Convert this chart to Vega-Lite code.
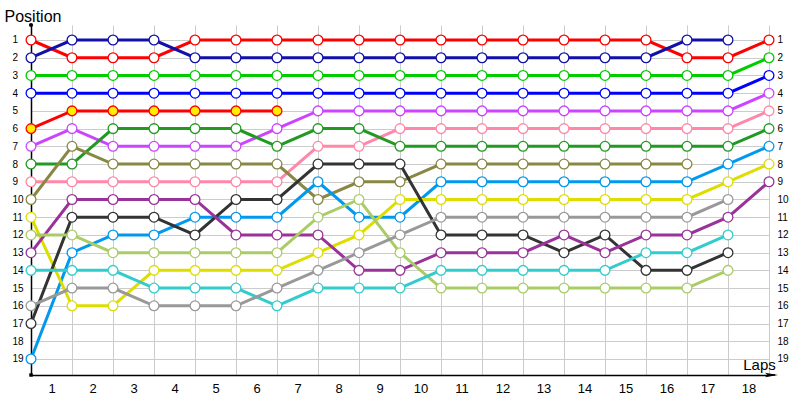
{
  "$schema": "https://vega.github.io/schema/vega-lite/v6.json",
  "width": 738,
  "height": 350,
  "autosize": {"type": "none"},
  "padding": {"left": 31, "top": 25, "right": 31, "bottom": 25},
  "background": "white",
  "config": {"view": {"stroke": null}, "axis": {"labelFont": "Liberation Sans", "titleFont": "Liberation Sans"}},
  "datasets": {
    "race": [
      {"driver":"red","lap":0,"pos":1},{"driver":"red","lap":1,"pos":2},{"driver":"red","lap":2,"pos":2},{"driver":"red","lap":3,"pos":2},{"driver":"red","lap":4,"pos":1},{"driver":"red","lap":5,"pos":1},{"driver":"red","lap":6,"pos":1},{"driver":"red","lap":7,"pos":1},{"driver":"red","lap":8,"pos":1},{"driver":"red","lap":9,"pos":1},{"driver":"red","lap":10,"pos":1},{"driver":"red","lap":11,"pos":1},{"driver":"red","lap":12,"pos":1},{"driver":"red","lap":13,"pos":1},{"driver":"red","lap":14,"pos":1},{"driver":"red","lap":15,"pos":1},{"driver":"red","lap":16,"pos":2},{"driver":"red","lap":17,"pos":2},{"driver":"red","lap":18,"pos":1},
      {"driver":"navy","lap":0,"pos":2},{"driver":"navy","lap":1,"pos":1},{"driver":"navy","lap":2,"pos":1},{"driver":"navy","lap":3,"pos":1},{"driver":"navy","lap":4,"pos":2},{"driver":"navy","lap":5,"pos":2},{"driver":"navy","lap":6,"pos":2},{"driver":"navy","lap":7,"pos":2},{"driver":"navy","lap":8,"pos":2},{"driver":"navy","lap":9,"pos":2},{"driver":"navy","lap":10,"pos":2},{"driver":"navy","lap":11,"pos":2},{"driver":"navy","lap":12,"pos":2},{"driver":"navy","lap":13,"pos":2},{"driver":"navy","lap":14,"pos":2},{"driver":"navy","lap":15,"pos":2},{"driver":"navy","lap":16,"pos":1},{"driver":"navy","lap":17,"pos":1},
      {"driver":"green","lap":0,"pos":3},{"driver":"green","lap":1,"pos":3},{"driver":"green","lap":2,"pos":3},{"driver":"green","lap":3,"pos":3},{"driver":"green","lap":4,"pos":3},{"driver":"green","lap":5,"pos":3},{"driver":"green","lap":6,"pos":3},{"driver":"green","lap":7,"pos":3},{"driver":"green","lap":8,"pos":3},{"driver":"green","lap":9,"pos":3},{"driver":"green","lap":10,"pos":3},{"driver":"green","lap":11,"pos":3},{"driver":"green","lap":12,"pos":3},{"driver":"green","lap":13,"pos":3},{"driver":"green","lap":14,"pos":3},{"driver":"green","lap":15,"pos":3},{"driver":"green","lap":16,"pos":3},{"driver":"green","lap":17,"pos":3},{"driver":"green","lap":18,"pos":2},
      {"driver":"blue","lap":0,"pos":4},{"driver":"blue","lap":1,"pos":4},{"driver":"blue","lap":2,"pos":4},{"driver":"blue","lap":3,"pos":4},{"driver":"blue","lap":4,"pos":4},{"driver":"blue","lap":5,"pos":4},{"driver":"blue","lap":6,"pos":4},{"driver":"blue","lap":7,"pos":4},{"driver":"blue","lap":8,"pos":4},{"driver":"blue","lap":9,"pos":4},{"driver":"blue","lap":10,"pos":4},{"driver":"blue","lap":11,"pos":4},{"driver":"blue","lap":12,"pos":4},{"driver":"blue","lap":13,"pos":4},{"driver":"blue","lap":14,"pos":4},{"driver":"blue","lap":15,"pos":4},{"driver":"blue","lap":16,"pos":4},{"driver":"blue","lap":17,"pos":4},{"driver":"blue","lap":18,"pos":3},
      {"driver":"redYellow","lap":0,"pos":6},{"driver":"redYellow","lap":1,"pos":5},{"driver":"redYellow","lap":2,"pos":5},{"driver":"redYellow","lap":3,"pos":5},{"driver":"redYellow","lap":4,"pos":5},{"driver":"redYellow","lap":5,"pos":5},{"driver":"redYellow","lap":6,"pos":5},
      {"driver":"violet","lap":0,"pos":7},{"driver":"violet","lap":1,"pos":6},{"driver":"violet","lap":2,"pos":7},{"driver":"violet","lap":3,"pos":7},{"driver":"violet","lap":4,"pos":7},{"driver":"violet","lap":5,"pos":7},{"driver":"violet","lap":6,"pos":6},{"driver":"violet","lap":7,"pos":5},{"driver":"violet","lap":8,"pos":5},{"driver":"violet","lap":9,"pos":5},{"driver":"violet","lap":10,"pos":5},{"driver":"violet","lap":11,"pos":5},{"driver":"violet","lap":12,"pos":5},{"driver":"violet","lap":13,"pos":5},{"driver":"violet","lap":14,"pos":5},{"driver":"violet","lap":15,"pos":5},{"driver":"violet","lap":16,"pos":5},{"driver":"violet","lap":17,"pos":5},{"driver":"violet","lap":18,"pos":4},
      {"driver":"pink","lap":0,"pos":9},{"driver":"pink","lap":1,"pos":9},{"driver":"pink","lap":2,"pos":9},{"driver":"pink","lap":3,"pos":9},{"driver":"pink","lap":4,"pos":9},{"driver":"pink","lap":5,"pos":9},{"driver":"pink","lap":6,"pos":9},{"driver":"pink","lap":7,"pos":7},{"driver":"pink","lap":8,"pos":7},{"driver":"pink","lap":9,"pos":6},{"driver":"pink","lap":10,"pos":6},{"driver":"pink","lap":11,"pos":6},{"driver":"pink","lap":12,"pos":6},{"driver":"pink","lap":13,"pos":6},{"driver":"pink","lap":14,"pos":6},{"driver":"pink","lap":15,"pos":6},{"driver":"pink","lap":16,"pos":6},{"driver":"pink","lap":17,"pos":6},{"driver":"pink","lap":18,"pos":5},
      {"driver":"darkGreen","lap":0,"pos":8},{"driver":"darkGreen","lap":1,"pos":8},{"driver":"darkGreen","lap":2,"pos":6},{"driver":"darkGreen","lap":3,"pos":6},{"driver":"darkGreen","lap":4,"pos":6},{"driver":"darkGreen","lap":5,"pos":6},{"driver":"darkGreen","lap":6,"pos":7},{"driver":"darkGreen","lap":7,"pos":6},{"driver":"darkGreen","lap":8,"pos":6},{"driver":"darkGreen","lap":9,"pos":7},{"driver":"darkGreen","lap":10,"pos":7},{"driver":"darkGreen","lap":11,"pos":7},{"driver":"darkGreen","lap":12,"pos":7},{"driver":"darkGreen","lap":13,"pos":7},{"driver":"darkGreen","lap":14,"pos":7},{"driver":"darkGreen","lap":15,"pos":7},{"driver":"darkGreen","lap":16,"pos":7},{"driver":"darkGreen","lap":17,"pos":7},{"driver":"darkGreen","lap":18,"pos":6},
      {"driver":"olive","lap":0,"pos":10},{"driver":"olive","lap":1,"pos":7},{"driver":"olive","lap":2,"pos":8},{"driver":"olive","lap":3,"pos":8},{"driver":"olive","lap":4,"pos":8},{"driver":"olive","lap":5,"pos":8},{"driver":"olive","lap":6,"pos":8},{"driver":"olive","lap":7,"pos":10},{"driver":"olive","lap":8,"pos":9},{"driver":"olive","lap":9,"pos":9},{"driver":"olive","lap":10,"pos":8},{"driver":"olive","lap":11,"pos":8},{"driver":"olive","lap":12,"pos":8},{"driver":"olive","lap":13,"pos":8},{"driver":"olive","lap":14,"pos":8},{"driver":"olive","lap":15,"pos":8},{"driver":"olive","lap":16,"pos":8},
      {"driver":"sky","lap":0,"pos":19},{"driver":"sky","lap":1,"pos":13},{"driver":"sky","lap":2,"pos":12},{"driver":"sky","lap":3,"pos":12},{"driver":"sky","lap":4,"pos":11},{"driver":"sky","lap":5,"pos":11},{"driver":"sky","lap":6,"pos":11},{"driver":"sky","lap":7,"pos":9},{"driver":"sky","lap":8,"pos":11},{"driver":"sky","lap":9,"pos":11},{"driver":"sky","lap":10,"pos":9},{"driver":"sky","lap":11,"pos":9},{"driver":"sky","lap":12,"pos":9},{"driver":"sky","lap":13,"pos":9},{"driver":"sky","lap":14,"pos":9},{"driver":"sky","lap":15,"pos":9},{"driver":"sky","lap":16,"pos":9},{"driver":"sky","lap":17,"pos":8},{"driver":"sky","lap":18,"pos":7},
      {"driver":"yellow","lap":0,"pos":11},{"driver":"yellow","lap":1,"pos":16},{"driver":"yellow","lap":2,"pos":16},{"driver":"yellow","lap":3,"pos":14},{"driver":"yellow","lap":4,"pos":14},{"driver":"yellow","lap":5,"pos":14},{"driver":"yellow","lap":6,"pos":14},{"driver":"yellow","lap":7,"pos":13},{"driver":"yellow","lap":8,"pos":12},{"driver":"yellow","lap":9,"pos":10},{"driver":"yellow","lap":10,"pos":10},{"driver":"yellow","lap":11,"pos":10},{"driver":"yellow","lap":12,"pos":10},{"driver":"yellow","lap":13,"pos":10},{"driver":"yellow","lap":14,"pos":10},{"driver":"yellow","lap":15,"pos":10},{"driver":"yellow","lap":16,"pos":10},{"driver":"yellow","lap":17,"pos":9},{"driver":"yellow","lap":18,"pos":8},
      {"driver":"black","lap":0,"pos":17},{"driver":"black","lap":1,"pos":11},{"driver":"black","lap":2,"pos":11},{"driver":"black","lap":3,"pos":11},{"driver":"black","lap":4,"pos":12},{"driver":"black","lap":5,"pos":10},{"driver":"black","lap":6,"pos":10},{"driver":"black","lap":7,"pos":8},{"driver":"black","lap":8,"pos":8},{"driver":"black","lap":9,"pos":8},{"driver":"black","lap":10,"pos":12},{"driver":"black","lap":11,"pos":12},{"driver":"black","lap":12,"pos":12},{"driver":"black","lap":13,"pos":13},{"driver":"black","lap":14,"pos":12},{"driver":"black","lap":15,"pos":14},{"driver":"black","lap":16,"pos":14},{"driver":"black","lap":17,"pos":13},
      {"driver":"purple","lap":0,"pos":13},{"driver":"purple","lap":1,"pos":10},{"driver":"purple","lap":2,"pos":10},{"driver":"purple","lap":3,"pos":10},{"driver":"purple","lap":4,"pos":10},{"driver":"purple","lap":5,"pos":12},{"driver":"purple","lap":6,"pos":12},{"driver":"purple","lap":7,"pos":12},{"driver":"purple","lap":8,"pos":14},{"driver":"purple","lap":9,"pos":14},{"driver":"purple","lap":10,"pos":13},{"driver":"purple","lap":11,"pos":13},{"driver":"purple","lap":12,"pos":13},{"driver":"purple","lap":13,"pos":12},{"driver":"purple","lap":14,"pos":13},{"driver":"purple","lap":15,"pos":12},{"driver":"purple","lap":16,"pos":12},{"driver":"purple","lap":17,"pos":11},{"driver":"purple","lap":18,"pos":9},
      {"driver":"lime","lap":0,"pos":12},{"driver":"lime","lap":1,"pos":12},{"driver":"lime","lap":2,"pos":13},{"driver":"lime","lap":3,"pos":13},{"driver":"lime","lap":4,"pos":13},{"driver":"lime","lap":5,"pos":13},{"driver":"lime","lap":6,"pos":13},{"driver":"lime","lap":7,"pos":11},{"driver":"lime","lap":8,"pos":10},{"driver":"lime","lap":9,"pos":13},{"driver":"lime","lap":10,"pos":15},{"driver":"lime","lap":11,"pos":15},{"driver":"lime","lap":12,"pos":15},{"driver":"lime","lap":13,"pos":15},{"driver":"lime","lap":14,"pos":15},{"driver":"lime","lap":15,"pos":15},{"driver":"lime","lap":16,"pos":15},{"driver":"lime","lap":17,"pos":14},
      {"driver":"cyan","lap":0,"pos":14},{"driver":"cyan","lap":1,"pos":14},{"driver":"cyan","lap":2,"pos":14},{"driver":"cyan","lap":3,"pos":15},{"driver":"cyan","lap":4,"pos":15},{"driver":"cyan","lap":5,"pos":15},{"driver":"cyan","lap":6,"pos":16},{"driver":"cyan","lap":7,"pos":15},{"driver":"cyan","lap":8,"pos":15},{"driver":"cyan","lap":9,"pos":15},{"driver":"cyan","lap":10,"pos":14},{"driver":"cyan","lap":11,"pos":14},{"driver":"cyan","lap":12,"pos":14},{"driver":"cyan","lap":13,"pos":14},{"driver":"cyan","lap":14,"pos":14},{"driver":"cyan","lap":15,"pos":13},{"driver":"cyan","lap":16,"pos":13},{"driver":"cyan","lap":17,"pos":12},
      {"driver":"gray","lap":0,"pos":16},{"driver":"gray","lap":1,"pos":15},{"driver":"gray","lap":2,"pos":15},{"driver":"gray","lap":3,"pos":16},{"driver":"gray","lap":4,"pos":16},{"driver":"gray","lap":5,"pos":16},{"driver":"gray","lap":6,"pos":15},{"driver":"gray","lap":7,"pos":14},{"driver":"gray","lap":8,"pos":13},{"driver":"gray","lap":9,"pos":12},{"driver":"gray","lap":10,"pos":11},{"driver":"gray","lap":11,"pos":11},{"driver":"gray","lap":12,"pos":11},{"driver":"gray","lap":13,"pos":11},{"driver":"gray","lap":14,"pos":11},{"driver":"gray","lap":15,"pos":11},{"driver":"gray","lap":16,"pos":11},{"driver":"gray","lap":17,"pos":10}
    ]
  },
  "resolve": {"axis": {"y": "independent"}},
  "layer": [
    {
      "data": {"name": "race"},
      "mark": {"type": "line", "strokeWidth": 3},
      "encoding": {
        "x": {
          "field": "lap", "type": "quantitative",
          "scale": {"domain": [0, 18], "nice": false, "zero": false},
          "axis": {
            "values": [0,1,2,3,4,5,6,7,8,9,10,11,12,13,14,15,16,17,18],
            "grid": true, "gridColor": "#cccccc", "gridWidth": 1,
            "domainColor": "#000000", "domainWidth": 1.5, "ticks": false,
            "labelOffset": 20.5, "labelPadding": 7, "labelFontSize": 13, "labelColor": "#000000",
            "labelFlush": false, "labelOverlap": false, "labelBaseline": "top",
            "labelExpr": "datum.value < 18 ? datum.value + 1 : ''",
            "title": "Laps", "titleX": 728, "titleY": -6, "titleAlign": "center", "titleBaseline": "alphabetic",
            "titleFontSize": 15, "titleFontWeight": "normal", "titleColor": "#000000"
          }
        },
        "y": {
          "field": "pos", "type": "quantitative",
          "scale": {"domain": [0.1536, 19.904], "reverse": true, "nice": false, "zero": false},
          "axis": {
            "orient": "left",
            "values": [1,2,3,4,5,6,7,8,9,10,11,12,13,14,15,16,17,18,19],
            "grid": true, "gridColor": "#cccccc", "gridWidth": 1,
            "domainColor": "#000000", "domainWidth": 1.5, "ticks": false,
            "labelAlign": "left", "labelPadding": 19, "labelFontSize": 10, "labelColor": "#000000",
            "labelBaseline": "middle", "labelFlush": false, "labelOverlap": false,
            "title": "Position", "titleAngle": 0, "titleX": -27, "titleY": -4, "titleAlign": "left",
            "titleBaseline": "alphabetic", "titleFontSize": 16, "titleFontWeight": "normal", "titleColor": "#000000"
          }
        },
        "stroke": {
          "field": "driver", "type": "nominal", "legend": null,
          "scale": {
            "domain": ["red","navy","green","blue","redYellow","violet","pink","darkGreen","olive","sky","yellow","black","purple","lime","cyan","gray"],
            "range": ["#ff0000","#1111aa","#00cc00","#0000ff","#ff0000","#cc44ff","#ff88aa","#229922","#888844","#0099ee","#dddd00","#333333","#993399","#aacc66","#33cccc","#999999"]
          }
        }
      }
    },
    {
      "data": {"name": "race"},
      "mark": {"type": "point", "shape": "circle", "size": 95, "strokeWidth": 1.3, "opacity": 1, "fillOpacity": 1},
      "encoding": {
        "x": {"field": "lap", "type": "quantitative"},
        "y": {
          "field": "pos", "type": "quantitative",
          "axis": {
            "orient": "right",
            "values": [1,2,3,4,5,6,7,8,9,10,11,12,13,14,15,16,17,18,19],
            "grid": false, "domain": false, "ticks": false,
            "labelAlign": "left", "labelPadding": 8, "labelFontSize": 10, "labelColor": "#000000",
            "labelBaseline": "middle", "labelFlush": false, "labelOverlap": false, "title": null
          }
        },
        "stroke": {"field": "driver", "type": "nominal", "legend": null},
        "fill": {
          "field": "driver", "type": "nominal", "legend": null,
          "scale": {
            "domain": ["red","navy","green","blue","redYellow","violet","pink","darkGreen","olive","sky","yellow","black","purple","lime","cyan","gray"],
            "range": ["#ffffff","#ffffff","#ffffff","#ffffff","#ffee00","#ffffff","#ffffff","#ffffff","#ffffff","#ffffff","#ffffff","#ffffff","#ffffff","#ffffff","#ffffff","#ffffff"]
          }
        }
      }
    },
    {
      "data": {"values": [{}]},
      "mark": {"type": "point", "shape": "circle", "filled": true, "size": 18, "color": "#000000", "opacity": 1},
      "encoding": {
        "x": {"datum": 0, "type": "quantitative"},
        "y": {"datum": 0.1536, "type": "quantitative", "axis": null}
      }
    },
    {
      "data": {"values": [{}]},
      "mark": {"type": "point", "shape": "square", "filled": true, "size": 12, "color": "#000000", "opacity": 1},
      "encoding": {
        "x": {"datum": 0, "type": "quantitative"},
        "y": {"datum": 19.904, "type": "quantitative", "axis": null}
      }
    },
    {
      "data": {"values": [{}]},
      "mark": {"type": "rule", "color": "#000000", "strokeWidth": 1.5},
      "encoding": {
        "x": {"datum": 18, "type": "quantitative"},
        "x2": {"datum": 18.15},
        "y": {"datum": 19.904, "type": "quantitative", "axis": null}
      }
    },
    {
      "data": {"values": [{}]},
      "mark": {"type": "point", "shape": "M-1,-0.35L1,0L-1,0.35L-0.6,0Z", "filled": true, "size": 169, "color": "#000000", "opacity": 1},
      "encoding": {
        "x": {"datum": 18.06, "type": "quantitative"},
        "y": {"datum": 19.904, "type": "quantitative", "axis": null}
      }
    }
  ]
}
